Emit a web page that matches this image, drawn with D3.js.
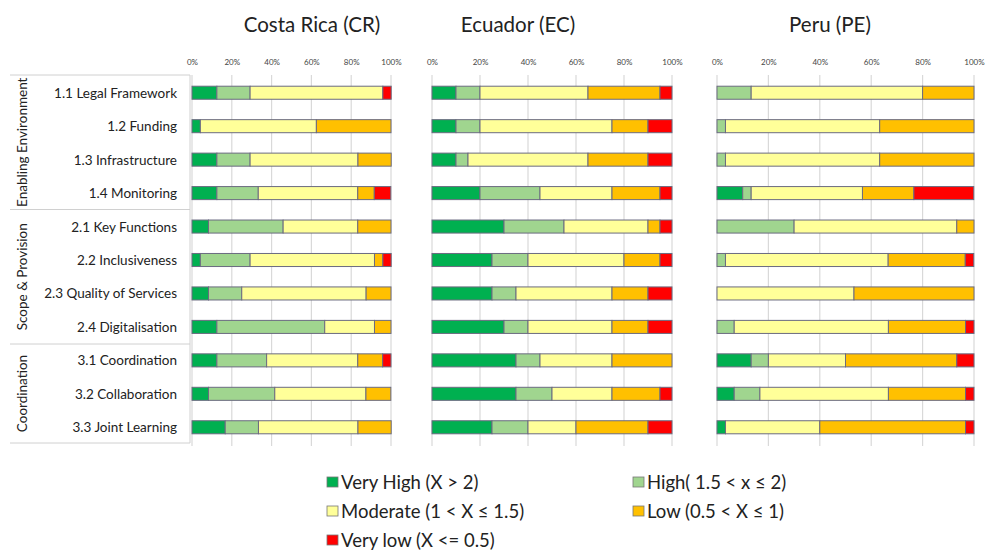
<!DOCTYPE html>
<html>
<head>
<meta charset="utf-8">
<script src="https://cdn.jsdelivr.net/npm/d3@7"></script>
<style>
  body { margin: 0; background: #fff; }
  svg { display: block; font-family: Lato, "Open Sans", sans-serif; }
</style>
</head>
<body>
<svg id="chart" width="988" height="551"></svg>
<script>
// ---------- DATA ----------
const categories = ["1.1 Legal Framework", "1.2 Funding", "1.3 Infrastructure", "1.4 Monitoring",
  "2.1 Key Functions", "2.2 Inclusiveness", "2.3 Quality of Services", "2.4 Digitalisation",
  "3.1 Coordination", "3.2 Collaboration", "3.3 Joint Learning"];
const groups = [
  { name: "Enabling Environment", from: 0, to: 3 },
  { name: "Scope & Provision", from: 4, to: 7 },
  { name: "Coordination", from: 8, to: 10 }
];
const seriesNames = ["Very High (X > 2)", "High( 1.5 < x \u2264 2)", "Moderate (1 < X \u2264 1.5)", "Low (0.5 < X \u2264 1)", "Very low (X <= 0.5)"];
const seriesColors = ["#00B050", "#A0D58F", "#FFFF99", "#FFC000", "#FF0000"];
const countries = ["Costa Rica (CR)", "Ecuador (EC)", "Peru (PE)"];
const tickValues = [0, 20, 40, 60, 80, 100];

// percentages: [Very High, High, Moderate, Low, Very low]
const valuesCR = [
  [12.5, 16.7, 66.7, 0, 4.2],
  [4.2, 0, 58.3, 37.5, 0],
  [12.5, 16.7, 54.2, 16.7, 0],
  [12.5, 20.8, 50.0, 8.3, 8.3],
  [8.3, 37.5, 37.5, 16.7, 0],
  [4.2, 25.0, 62.5, 4.2, 4.2],
  [8.3, 16.7, 62.5, 12.5, 0],
  [12.5, 54.2, 25.0, 8.3, 0],
  [12.5, 25.0, 45.8, 12.5, 4.2],
  [8.3, 33.3, 45.8, 12.5, 0],
  [16.7, 16.7, 50.0, 16.7, 0]
];
const valuesEC = [
  [10, 10, 45, 30, 5],
  [10, 10, 55, 15, 10],
  [10, 5, 50, 25, 10],
  [20, 25, 30, 20, 5],
  [30, 25, 35, 5, 5],
  [25, 15, 40, 15, 5],
  [25, 10, 40, 15, 10],
  [30, 10, 35, 15, 10],
  [35, 10, 30, 25, 0],
  [35, 15, 25, 20, 5],
  [25, 15, 20, 30, 10]
];
const valuesPE = [
  [0, 13.3, 66.7, 20.0, 0],
  [0, 3.3, 60.0, 36.7, 0],
  [0, 3.3, 60.0, 36.7, 0],
  [10.0, 3.3, 43.3, 20.0, 23.3],
  [0, 30.0, 63.3, 6.7, 0],
  [0, 3.3, 63.3, 30.0, 3.3],
  [0, 0, 53.3, 46.7, 0],
  [0, 6.7, 60.0, 30.0, 3.3],
  [13.3, 6.7, 30.0, 43.3, 6.7],
  [6.7, 10.0, 50.0, 30.0, 3.3],
  [3.3, 0, 36.7, 56.7, 3.3]
];
const countryValues = [valuesCR, valuesEC, valuesPE];

// ---------- LAYOUT ----------
const svg = d3.select("#chart");
const panels = [
  { x0: 192, x1: 391, titleX: 312 },
  { x0: 432, x1: 672, titleX: 518 },
  { x0: 717, x1: 974, titleX: 830 }
];
const plotTop = 76, plotBottom = 444;
const y = d3.scaleBand().domain(categories).range([plotTop, plotBottom]).paddingInner(0.61).paddingOuter(0.305);

// left label box
const box = svg.append("g");
box.append("line").attr("x1", 190).attr("x2", 190).attr("y1", 75).attr("y2", 443)
  .attr("stroke", "#d0d0d0").attr("stroke-width", 1);
const sepYs = [75, 209.5, 344, 443];
sepYs.forEach(v => box.append("line").attr("x1", 10).attr("x2", 190).attr("y1", v).attr("y2", v)
  .attr("stroke", "#d0d0d0").attr("stroke-width", 1));

// category labels
svg.append("g").selectAll("text").data(categories).join("text")
  .attr("x", 177).attr("y", d => y(d) + y.bandwidth() / 2)
  .attr("text-anchor", "end").attr("dominant-baseline", "central")
  .attr("font-size", 13.5).attr("fill", "#222")
  .text(d => d);

// group labels
svg.append("g").selectAll("text").data(groups).join("text")
  .attr("transform", d => {
    const cy = (sepYs[groups.indexOf(d)] + sepYs[groups.indexOf(d) + 1]) / 2;
    return `translate(22,${cy}) rotate(-90)`;
  })
  .attr("text-anchor", "middle").attr("dominant-baseline", "central")
  .attr("font-size", 13.5).attr("fill", "#222")
  .text(d => d.name);

// panels
panels.forEach((p, pi) => {
  const x = d3.scaleLinear().domain([0, 100]).range([p.x0, p.x1]);
  const g = svg.append("g");

  // title
  g.append("text").attr("x", p.titleX).attr("y", 32).attr("text-anchor", "middle")
    .attr("font-size", 20.5).attr("fill", "#222").text(countries[pi]);

  // grid
  g.append("g").selectAll("line").data(tickValues).join("line")
    .attr("x1", d => x(d)).attr("x2", d => x(d))
    .attr("y1", 75).attr("y2", 446)
    .attr("stroke", "#d9d9d9").attr("stroke-width", 1.2);

  // tick labels via axis
  const axis = d3.axisTop(x).tickValues(tickValues).tickFormat(d => d + "%").tickSize(0).tickPadding(0);
  const ag = g.append("g").attr("transform", "translate(0,65)").call(axis);
  ag.select(".domain").remove();
  ag.selectAll("text").attr("font-size", 8).attr("fill", "#444").attr("font-family", "Lato, sans-serif");

  // stacked bars
  const rows = countryValues[pi].map((vals, i) => {
    let acc = 0;
    return vals.map((v, s) => { const r = { cat: categories[i], s, start: acc, end: acc + v }; acc += v; return r; });
  }).flat().filter(d => d.end - d.start > 0);

  g.append("g").selectAll("rect").data(rows).join("rect")
    .attr("x", d => x(d.start)).attr("width", d => x(d.end) - x(d.start))
    .attr("y", d => y(d.cat)).attr("height", y.bandwidth())
    .attr("fill", d => seriesColors[d.s])
    .attr("stroke", "#6b6b80").attr("stroke-width", 1);
});

// legend
const legendPos = [
  { x: 327, y: 482 }, { x: 633, y: 482 },
  { x: 327, y: 511 }, { x: 633, y: 511 },
  { x: 327, y: 540 }
];
const lg = svg.append("g").selectAll("g").data(seriesNames).join("g")
  .attr("transform", (d, i) => `translate(${legendPos[i].x},${legendPos[i].y})`);
lg.append("rect").attr("x", 0).attr("y", -5).attr("width", 11).attr("height", 10)
  .attr("fill", (d, i) => seriesColors[i]).attr("stroke", "#777").attr("stroke-width", 0.8);
lg.append("text").attr("x", 14).attr("y", 0).attr("dominant-baseline", "central")
  .attr("font-size", 18.5).attr("fill", "#222").text(d => d);
</script>
</body>
</html>
